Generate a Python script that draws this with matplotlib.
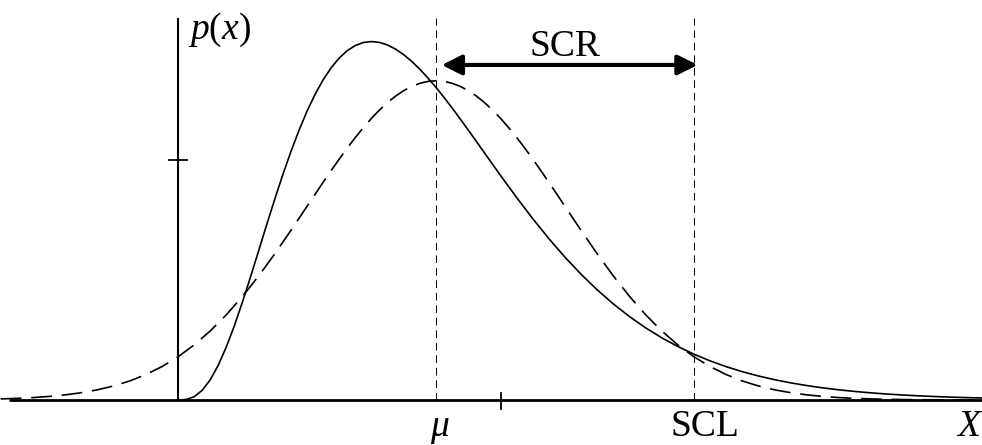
import matplotlib.pyplot as plt
from matplotlib.patches import FancyArrowPatch

# dashed curve (finer steps around the peak)
x_dashed = [-2.75, -2.5, -2.25, -2.0, -1.75, -1.5, -1.25, -1.0, -0.75, -0.5, -0.25,
            0.0, 0.25, 0.5, 0.75, 1.0, 1.25, 1.5, 1.75,
            2.0, 2.125, 2.25, 2.375, 2.5, 2.625, 2.75, 2.875,
            3.0, 3.125, 3.25, 3.375, 3.5, 3.625, 3.75, 3.875,
            4.0, 4.125, 4.25, 4.375, 4.5, 4.625, 4.75, 4.875,
            5.0, 5.125, 5.25, 5.375, 5.5, 5.625, 5.75, 5.875,
            6.0, 6.25, 6.5, 6.75, 7.0, 7.25, 7.5, 7.75, 8.0, 8.25, 8.5, 8.75,
            9.0, 9.25, 9.5, 9.75, 10.0, 10.25, 10.5, 10.75, 11.0, 11.25, 11.5,
            11.75, 12.0, 12.25, 12.5]
p_dashed = [0.00067, 0.00102, 0.00151, 0.00222, 0.00320, 0.00455, 0.00636, 0.00877,
            0.01188, 0.01587, 0.02086, 0.02700, 0.03440, 0.04315, 0.05328, 0.06477,
            0.07752, 0.09134, 0.10596,
            0.12100, 0.12856, 0.13605, 0.14341, 0.15059, 0.15752, 0.16410, 0.17031,
            0.17606, 0.18129, 0.18595, 0.18999, 0.19336, 0.19602, 0.19795, 0.19911,
            0.19950, 0.19911, 0.19795, 0.19602, 0.19336, 0.18999, 0.18595, 0.18129,
            0.17606, 0.17031, 0.16410, 0.15752, 0.15059, 0.14341, 0.13605, 0.12856,
            0.12100, 0.10596, 0.09134, 0.07752, 0.06477,
            0.05328, 0.04315, 0.03440, 0.02700, 0.02086, 0.01587, 0.01188, 0.00877,
            0.00636, 0.00455, 0.00320, 0.00222, 0.00151, 0.00102, 0.00067, 0.00044,
            0.00028, 0.00018, 0.00011, 0.00007, 0.00004, 0.00002]

# solid curve
x_solid = [0.0, 0.125, 0.25, 0.375, 0.5, 0.625, 0.75, 0.875,
           1.0, 1.125, 1.25, 1.375, 1.5, 1.625, 1.75, 1.875,
           2.0, 2.125, 2.25, 2.375, 2.5, 2.625, 2.75, 2.875,
           3.0, 3.125, 3.25, 3.375, 3.5, 3.625, 3.75, 3.875,
           4.0, 4.125, 4.25, 4.375, 4.5, 4.625, 4.75, 4.875,
           5.0, 5.25, 5.5, 5.75,
           6.0, 6.25, 6.5, 6.75, 7.0, 7.25, 7.5, 7.75, 8.0, 8.25, 8.5, 8.75,
           9.0, 9.25, 9.5, 9.75, 10.0, 10.25, 10.5, 10.75, 11.0, 11.25, 11.5,
           11.75, 12.0, 12.25, 12.5]
p_solid = [0.0, 0.00029, 0.00203, 0.00604, 0.01264, 0.02178, 0.03322, 0.04654,
           0.06131, 0.07704, 0.09326, 0.10955, 0.12551, 0.14083, 0.15522, 0.16848,
           0.18045, 0.19101, 0.20009, 0.20768, 0.21376, 0.21838, 0.22158, 0.22344,
           0.22404, 0.22348, 0.22184, 0.21924, 0.21579, 0.21157, 0.20670, 0.20126,
           0.19537, 0.18908, 0.18250, 0.17569, 0.16872, 0.16165, 0.15454, 0.14743,
           0.14037, 0.12655, 0.11332, 0.10085,
           0.08924, 0.07855, 0.06881, 0.06002, 0.05213, 0.04510, 0.03889, 0.03342,
           0.02863, 0.02445, 0.02083, 0.01769, 0.01499, 0.01268, 0.01070, 0.00901,
           0.00757, 0.00635, 0.00531, 0.00444, 0.00371, 0.00309, 0.00257, 0.00213,
           0.00177, 0.00147, 0.00121]

mu = 4.0
scl = 8.0
x_tick = 5.0
y_tick = 0.15
y_top = 0.239
x_left = -2.62

plt.rcParams["lines.scale_dashes"] = False
plt.rcParams["mathtext.fontset"] = "custom"
plt.rcParams["mathtext.rm"] = "Liberation Serif"
plt.rcParams["mathtext.it"] = "Liberation Serif:italic"
serif = "Liberation Serif"

fig = plt.figure(figsize=(9.82, 4.45), dpi=100)
ax = fig.add_axes([0, 0, 1, 1])
ax.set_xlim(-2.7597, 12.465)
ax.set_ylim(-0.028125, 0.25)
ax.axis("off")

# axes drawn by hand
ax.plot([x_left, 12.465], [0, 0], color="black", lw=2.0, solid_capstyle="butt")
ax.plot([0, 0], [0, y_top], color="black", lw=1.5, solid_capstyle="butt")
ax.plot([-0.14, 0.14], [y_tick, y_tick], color="black", lw=1.3)
ax.plot([x_tick, x_tick], [-0.0056, 0.0044], color="black", lw=1.3)

# reference lines at mu and SCL
for xv in (mu, scl):
    ax.plot([xv, xv], [0, y_top], color="black", lw=0.7, dashes=(5.5, 3.5))

ax.plot(x_dashed, p_dashed, color="black", lw=1.2, dashes=(15, 7))
ax.plot(x_solid, p_solid, color="black", lw=1.2)

arrow = FancyArrowPatch((4.088, 0.2094), (8.057, 0.2094),
                        arrowstyle="<|-|>,head_length=1.2,head_width=0.6",
                        mutation_scale=10, lw=3, color="black",
                        shrinkA=0, shrinkB=0)
ax.add_patch(arrow)

ax.text(6.0, 0.215, "SCR", family=serif, fontsize=27, ha="center", va="baseline")
ax.text(0.16, 0.226, r"$p(x)$", fontsize=27, ha="left", va="baseline")
ax.text(4.06, -0.0222, r"$\mu$", fontsize=27, ha="center", va="baseline")
ax.text(8.17, -0.0222, "SCL", family=serif, fontsize=27, ha="center", va="baseline")
ax.text(12.43, -0.0222, "X", family=serif, style="italic", fontsize=27,
        ha="right", va="baseline")

fig.savefig("out.png", dpi=100)
